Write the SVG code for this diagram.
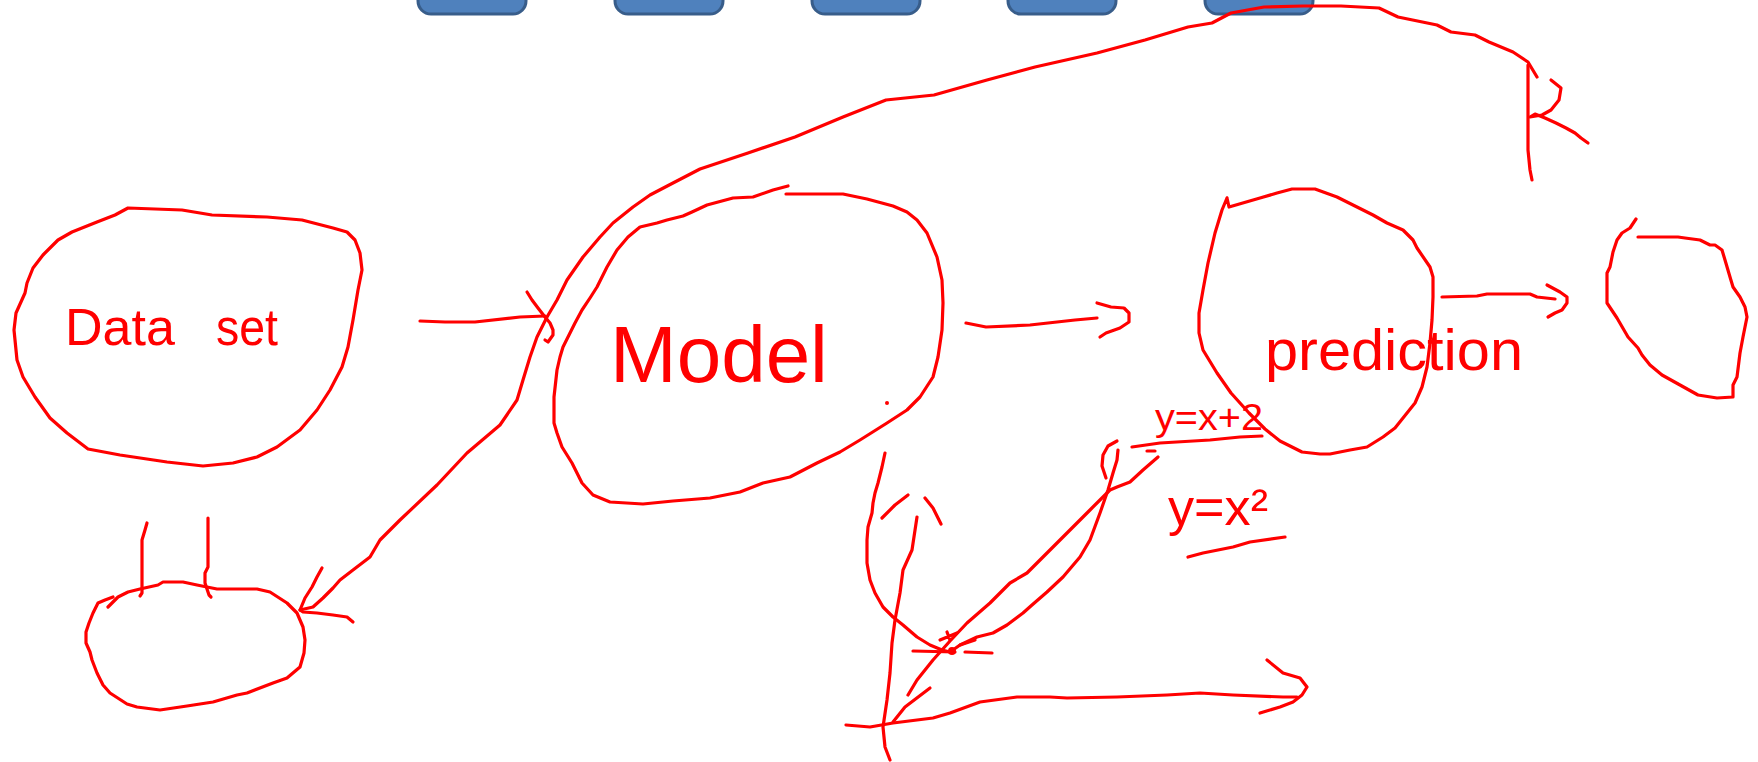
<svg xmlns="http://www.w3.org/2000/svg" width="1758" height="762" viewBox="0 0 1758 762">
<style>
.ink{fill:none;stroke:#ff0000;stroke-width:3.2;stroke-linecap:round;stroke-linejoin:round}
.hand{font-family:"Liberation Sans","DejaVu Sans",sans-serif;fill:#ff0000}
.btn{fill:#4f81bd;stroke:#385d8a;stroke-width:3}
</style>
<rect width="1758" height="762" fill="#ffffff"/>
<g id="buttons">
<g id="btn1"><rect class="btn" x="418" y="-20" width="108" height="34" rx="13"/></g>
<g id="btn2"><rect class="btn" x="615" y="-20" width="108" height="34" rx="13"/></g>
<g id="btn3"><rect class="btn" x="812" y="-20" width="108" height="34" rx="13"/></g>
<g id="btn4"><rect class="btn" x="1008" y="-20" width="108" height="34" rx="13"/></g>
<g id="btn5"><rect class="btn" x="1205" y="-20" width="108" height="34" rx="13"/></g>
</g>
<g id="node-dataset">
<path class="ink" d="M128,208 L182,210 L212,215 L267,217 L302,220 L333,228 L347,232 L355,240 L360,253 L362,270 L358,290 L353,320 L348,347 L342,367 L330,390 L317,410 L300,430 L277,447 L257,457 L233,463 L203,466 L167,462 L120,455 L88,449 L67,433 L50,418 L35,397 L23,377 L17,360 L14,330 L16,313 L25,293 L27,283 L33,268 L43,255 L58,240 L72,232 L97,222 L115,215 Z"/>
<text class="hand" x="65" y="345" font-size="52">Data <tspan x="216" textLength="62" lengthAdjust="spacingAndGlyphs">set</tspan></text>
</g>
<g id="node-store">
<path class="ink" d="M108,607 L118,597 L128,592 L140,589 L158,585 L163,582 L183,582 L197,585 L217,589 L257,589 L270,592 L287,603 L297,613 L303,627 L305,640 L304,653 L300,667 L287,678 L273,683 L247,693 L237,695 L213,702 L187,706 L160,710 L137,707 L127,704 L110,693 L103,685 L97,673 L92,660 L90,652 L86,643 L86,632 L89,623 L93,613 L98,603 L105,600 L113,597"/>
</g>
<g id="node-model">
<path class="ink" d="M788,186 L773,190 L753,197 L733,198 L707,205 L692,212 L683,216 L667,220 L657,223 L640,227 L628,237 L617,250 L607,267 L597,287 L590,298 L582,310 L575,323 L568,337 L563,347 L560,357 L557,370 L554,397 L554,423 L557,433 L562,447 L572,463 L582,483 L593,495 L610,502 L643,504 L673,501 L710,498 L740,492 L763,483 L790,477 L817,463 L840,452 L860,440 L887,423 L907,410 L920,397 L933,377 L938,357 L942,330 L943,303 L942,280 L937,257 L927,233 L917,220 L907,212 L893,206 L867,199 L843,194 L786,194"/>
<circle cx="887" cy="403" r="2" fill="#ff0000"/>
<text class="hand" x="610" y="382" font-size="80">Model</text>
</g>
<g id="node-prediction">
<path class="ink" d="M1227,198 L1229,207 L1260,198 L1277,193 L1292,189 L1315,189 L1337,197 L1353,205 L1373,215 L1387,223 L1403,230 L1413,240 L1417,248 L1430,267 L1433,277 L1433,297 L1432,320 L1430,343 L1427,367 L1422,387 L1415,403 L1403,418 L1395,428 L1383,437 L1367,447 L1350,450 L1330,454 L1320,454 L1302,452 L1280,441 L1265,429 L1249,413 L1231,393 L1217,373 L1203,350 L1199,333 L1199,313 L1203,290 L1208,263 L1215,233 L1222,210 L1227,198"/>
<text class="hand" x="1265" y="370" font-size="58" textLength="258" lengthAdjust="spacingAndGlyphs">prediction</text>
</g>
<g id="node-output">
<path class="ink" d="M1636,219 L1630,228 L1622,233 L1617,240 L1613,252 L1610,267 L1607,273 L1607,303 L1617,318 L1628,337 L1638,348 L1642,355 L1650,365 L1662,375 L1680,385 L1698,395 L1717,398 L1733,397 L1733,385 L1737,377 L1740,353 L1743,337 L1747,317 L1745,307 L1740,297 L1733,287 L1730,277 L1725,260 L1722,250 L1715,245 L1710,245 L1700,240 L1685,238 L1678,237 L1638,237"/>
</g>
<g id="graph">
<path class="ink" d="M846,725 L870,727 L893,723 L933,718 L950,713 L980,702 L1017,697 L1050,697 L1067,698 L1117,697 L1167,695 L1200,693 L1233,695 L1283,697 L1297,697"/>
<path class="ink" d="M1267,660 L1283,673 L1300,678 L1307,687 L1302,695 L1293,702 L1280,707 L1260,713"/>
<path class="ink" d="M917,517 L912,550 L903,570 L900,593 L895,620 L892,643 L890,673 L887,700 L883,727 L885,747 L890,760"/>
<path class="ink" d="M882,518 L895,505 L908,495 M925,498 L933,508 L941,524"/>
<path class="ink" d="M885,453 L882,467 L878,483 L875,493 L873,503 L872,513 L868,527 L867,540 L867,563 L870,580 L875,593 L883,607 L893,617 L903,625 L917,637 L930,645 L942,650 L950,652 L960,645 L977,637 L993,633 L1007,625 L1023,613 L1032,605 L1047,592 L1063,577 L1080,557 L1090,540 L1100,513 L1108,490 L1113,473 L1117,460 L1118,450"/>
<path class="ink" d="M908,695 L917,680 L933,660 L950,641 L967,623 L990,603 L1010,583 L1027,573 L1050,550 L1070,530 L1090,510 L1110,490 L1117,487 L1130,482 L1143,470 L1158,457"/>
<path class="ink" d="M893,722 L905,707 L930,688"/>
<path class="ink" d="M1117,441 L1108,446 L1103,455 L1102,466 L1106,478"/>
<path class="ink" d="M913,651 L955,652 M965,652 L992,653 M940,640 L957,633 M947,632 L950,640 M960,645 L975,640"/>
<circle cx="952" cy="651" r="4" fill="#ff0000"/>
<text class="hand" x="1155" y="430" font-size="36" textLength="108" lengthAdjust="spacingAndGlyphs">y=x+2</text>
<path class="ink" d="M1132,447 L1160,443 L1210,440 L1240,437 L1262,436 M1147,451 L1155,451"/>
<text class="hand" x="1168" y="525" font-size="52" textLength="100" lengthAdjust="spacingAndGlyphs">y=x²</text>
<path class="ink" d="M1188,557 L1203,553 L1233,547 L1250,542 L1285,537"/>
</g>
<g id="connectors">
<path class="ink" d="M420,321 L445,322 L475,322 L520,317 L545,316"/>
<path class="ink" d="M527,292 L532,300 L538,308 L545,317 L550,323 L553,330 L553,335 L548,342 L545,340"/>
<path class="ink" d="M966,323 L986,327 L1030,325 L1075,320 L1097,318"/>
<path class="ink" d="M1097,303 L1111,307 L1124,308 L1129,313 L1129,322 L1120,328 L1106,333 L1100,337"/>
<path class="ink" d="M1442,297 L1477,296 L1487,294 L1530,294 L1537,297 L1555,299"/>
<path class="ink" d="M1547,285 L1560,292 L1567,297 L1567,303 L1562,310 L1555,313 L1548,317"/>
<path class="ink" d="M300,610 L313,607 L323,598 L333,588 L340,580 L353,570 L370,557 L380,540 L400,520 L437,485 L467,453 L500,425 L517,400 L523,380 L530,357 L537,337 L547,317 L557,300 L567,280 L583,257 L600,237 L613,223 L633,207 L650,195 L673,183 L700,169 L748,153 L795,137 L843,117 L886,100 L934,95 L987,80 L1035,67 L1097,53 L1145,40 L1188,27 L1212,23 L1231,13 L1264,7 L1303,6 L1341,6 L1379,8 L1398,17 L1437,25 L1451,32 L1475,35 L1489,42 L1513,52 L1528,62 L1537,77"/>
<path class="ink" d="M322,568 L317,577 L312,587 L305,598 L300,610 L303,612 L317,613 L333,615 L347,617 L353,622"/>
<path class="ink" d="M147,523 L145,530 L142,540 L142,593 L140,596"/>
<path class="ink" d="M208,518 L208,567 L205,573 L205,583 L209,595 L211,597"/>
<path class="ink" d="M1528,65 L1528,150 L1530,170 L1532,180"/>
<path class="ink" d="M1551,80 L1561,88 L1559,100 L1551,110 L1542,115 L1530,117 L1535,114 L1545,118 L1556,123 L1566,128 L1575,133 L1581,138 L1588,143"/>
</g>
</svg>
